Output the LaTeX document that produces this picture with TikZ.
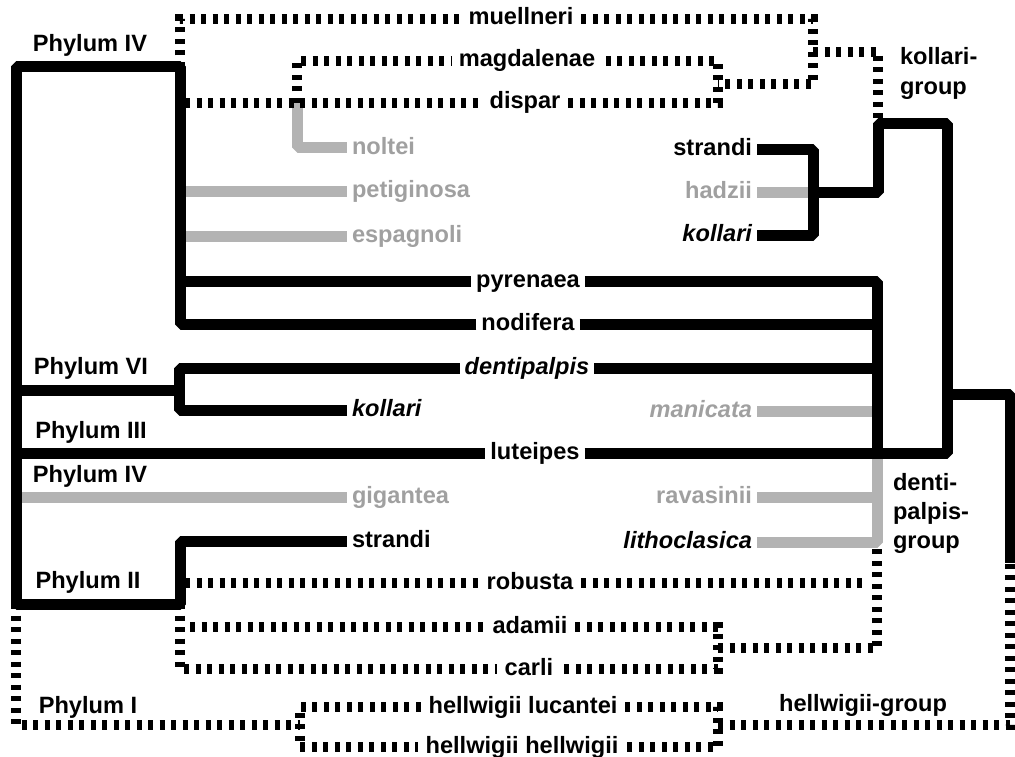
\documentclass[tikz,border=0pt]{standalone}
\usepackage{fontspec}
\setmainfont{Liberation Sans}
\definecolor{lgray}{RGB}{179,179,179}
\definecolor{tgray}{RGB}{160,160,160}
\tikzset{
  blk/.style={line width=11pt, black, line join=bevel},
  gry/.style={line width=11pt, lgray, line join=bevel},
  dot/.style={line width=10pt, black, dash pattern=on 5pt off 6.5pt},
  labA/.style={font=\fontsize{23.6}{28}\selectfont\bfseries, inner sep=5pt, outer sep=0pt, text height=17pt, text depth=5pt},
  labD/.style={labA, inner xsep=8pt},
  labG/.style={labA, text=tgray},
  labI/.style={labA, font=\fontsize{23.6}{28}\selectfont\bfseries\itshape},
  labGI/.style={labI, text=tgray},
}
\begin{document}
\begin{tikzpicture}[x=1pt,y=-1pt]
\useasboundingbox (0,0) rectangle (1015,757);

% ---------- labels ----------
\node[labA] (p4a) at (90,46) {Phylum IV};
\node[labD] (muel) at (521,19) {muellneri};
\node[labD] (magd) at (527,61) {magdalenae};
\node[labD] (disp) at (525,103) {dispar};
\node[labG,anchor=west] (nolt) at (347,148) {noltei};
\node[labG,anchor=west] (peti) at (347,191) {petiginosa};
\node[labG,anchor=west] (espa) at (347,236) {espagnoli};
\node[labA,anchor=east] (strA) at (757,150) {strandi};
\node[labG,anchor=east] (hadz) at (757,192) {hadzii};
\node[labI,anchor=east] (kolA) at (757,235) {kollari};
\node[labA,anchor=base west] (kg1) at (895,65) {kollari-};
\node[labA,anchor=base west] (kg2) at (895,95) {group};
\node[labA] (pyre) at (528,281) {pyrenaea};
\node[labA] (nodi) at (528,324) {nodifera};
\node[labI] (dent) at (527,368) {dentipalpis};
\node[labA] (p6) at (91,368) {Phylum VI};
\node[labI,anchor=west] (kolB) at (347,410) {kollari};
\node[labGI,anchor=east] (mani) at (757,411) {manicata};
\node[labA] (p3) at (91,432) {Phylum III};
\node[labA] (lute) at (535,453) {luteipes};
\node[labA] (p4b) at (90,476) {Phylum IV};
\node[labG,anchor=west] (giga) at (347,497) {gigantea};
\node[labG,anchor=east] (rava) at (757,497) {ravasinii};
\node[labA,anchor=base west] (dg1) at (888,490) {denti-};
\node[labA,anchor=base west] (dg2) at (888,519) {palpis-};
\node[labA,anchor=base west] (dg3) at (888,548) {group};
\node[labA,anchor=west] (strB) at (347,541) {strandi};
\node[labI,anchor=east] (lith) at (757,542) {lithoclasica};
\node[labA] (p2) at (88,582) {Phylum II};
\node[labD] (robu) at (530,583) {robusta};
\node[labD] (adam) at (530,627) {adamii};
\node[labD] (carl) at (529,669) {carli};
\node[labA] (p1) at (88,707) {Phylum I};
\node[labD] (luca) at (523,707) {hellwigii lucantei};
\node[labA] (hgrp) at (863,705) {hellwigii-group};
\node[labD] (hell) at (522,747) {hellwigii hellwigii};

% ---------- junction coordinates ----------
\coordinate (r4) at (16,67);
\coordinate (n4) at (180,67);
\coordinate (r2) at (16,604);
\coordinate (n2) at (180,604);
\coordinate (r6) at (16,390);
\coordinate (n6) at (179,390);
\coordinate (r3) at (16,453);
\coordinate (dg) at (877,453);
\coordinate (kgj) at (947,124);
\coordinate (kgb) at (878,124);
\coordinate (kj) at (813,192);
\coordinate (hj) at (947,394);
\coordinate (hg) at (1010,563);
\coordinate (nj) at (297,103);
\coordinate (pj) at (185,191);
\coordinate (ej) at (185,236);
\coordinate (g4) at (22,497);
\coordinate (mt) at (180,19);
\coordinate (mj) at (813,19);
\coordinate (mb) at (813,84);
\coordinate (dj) at (718,84);
\coordinate (mk) at (813,52);
\coordinate (ds) at (185,103);
\coordinate (dr) at (718,103);
\coordinate (rs) at (185,583);
\coordinate (re) at (862,583);
\coordinate (ab) at (718,648);
\coordinate (dgb) at (877,548);
\coordinate (as) at (190,627);
\coordinate (r1) at (16,725);
\coordinate (h1) at (300,725);
\coordinate (h2) at (718,725);

% ---------- grey branches ----------
\draw[gry] (nj) |- (nolt.west);
\draw[gry] (pj) -- (peti.west);
\draw[gry] (ej) -- (espa.west);
\draw[gry] (hadz.east) -- (kj);
\draw[gry] (mani.east) -- (dg |- mani.east);
\draw[gry] (rava.east) -- (dg |- rava.east);
\draw[gry] (lith.east) -| (dg);
\draw[gry] (g4) -- (giga.west);

% ---------- dotted branches ----------
\draw[dot] (n4) -- (mt) -- (muel.west);
\draw[dot] (muel.east) -- (mj) -- (mb) -- (dj);
\draw[dot] (mk) -| (kgb);
\draw[dot] (ds) -- (disp.west);
\draw[dot] (disp.east) -- (dr) |- (magd.east);
\draw[dot] (nj) |- (magd.west);
\draw[dot] (rs) -- (robu.west);
\draw[dot] (robu.east) -- (re);
\draw[dot] (ab) -| (dgb);
\draw[dot] (n2) |- (carl.west);
\draw[dot] (as) -- (adam.west);
\draw[dot] (adam.east) -| (ab) |- (carl.east);
\draw[dot] (r2) -- (r1) -- (h1);
\draw[dot] (luca.west) -| (h1) |- (hell.west);
\draw[dot] (luca.east) -| (h2) |- (hell.east);
\draw[dot] (h2) -| (hg);

% ---------- black branches ----------
\draw[blk] (nodi.west) -| (n4) -- (r4) -- (r2) -- (n2) |- (strB.west);
\draw[blk] (n4 |- pyre.west) -- (pyre.west);
\draw[blk] (pyre.east) -| (dg);
\draw[blk] (nodi.east) -- (dg |- nodi.east);
\draw[blk] (dent.east) -- (dg |- dent.east);
\draw[blk] (r6) -- (n6);
\draw[blk] (kolB.west) -| (n6) |- (dent.west);
\draw[blk] (r3) -- (lute.west);
\draw[blk] (lute.east) -| (kgj) -- (kgb) |- (kj);
\draw[blk] (strA.east) -| (kj) |- (kolA.east);
\draw[blk] (hj) -| (hg);
\end{tikzpicture}
\end{document}
